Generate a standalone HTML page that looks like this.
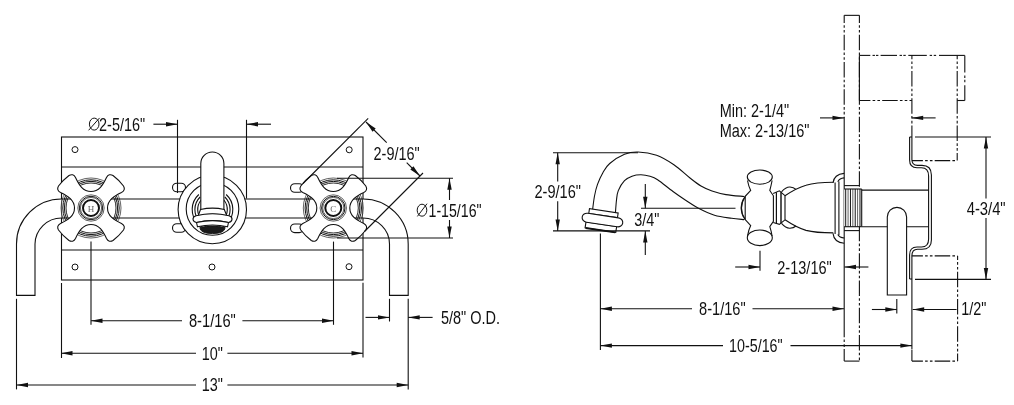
<!DOCTYPE html>
<html><head><meta charset="utf-8"><style>
html,body{margin:0;padding:0;background:#fff;width:1014px;height:405px;overflow:hidden}
svg{display:block;will-change:transform}
text{font-family:"Liberation Sans",sans-serif;fill:#111;stroke:none}
</style></head><body>
<svg width="1014" height="405" viewBox="0 0 1014 405" stroke="#111" fill="none" stroke-linecap="butt">
<rect x="61.5" y="137" width="301.5" height="143" fill="none" stroke-width="1.10"/>
<line x1="61.5" y1="167" x2="363" y2="167" stroke-width="1.10"/>
<line x1="61.5" y1="250" x2="363" y2="250" stroke-width="1.10"/>
<circle cx="75" cy="149.6" r="3" stroke-width="0.99" fill="none"/>
<circle cx="349.2" cy="149.8" r="3" stroke-width="0.99" fill="none"/>
<circle cx="75" cy="267" r="3" stroke-width="0.99" fill="none"/>
<circle cx="349" cy="266.7" r="3" stroke-width="0.99" fill="none"/>
<circle cx="212" cy="267" r="3" stroke-width="0.99" fill="none"/>
<path d="M61.5 199 A45 45 0 0 0 16.5 244 L16.5 295.4 L35 295.4 L35 244 A26.5 26.5 0 0 1 61.5 218" stroke-width="1.10" fill="#fff"/>
<path d="M363 199 A45.2 45 0 0 1 408.2 244 L408.2 295.4 L389.5 295.4 L389.5 244 A26.5 26 0 0 0 363 218" stroke-width="1.10" fill="#fff"/>
<line x1="61.5" y1="199" x2="363" y2="199" stroke-width="1.10"/>
<line x1="61.5" y1="218" x2="363" y2="218" stroke-width="1.10"/>
<rect x="172.5" y="183.2" width="13" height="8.6" rx="4.3" fill="#fff" stroke-width="1.10"/>
<rect x="172.5" y="223.7" width="13" height="8.6" rx="4.3" fill="#fff" stroke-width="1.10"/>
<rect x="290.5" y="183.7" width="13" height="8.6" rx="4.3" fill="#fff" stroke-width="1.10"/>
<rect x="290.5" y="224.0" width="13" height="8.6" rx="4.3" fill="#fff" stroke-width="1.10"/>
<line x1="177.5" y1="119.8" x2="177.5" y2="193" stroke-width="1.10"/>
<circle cx="212.3" cy="209.5" r="34.2" stroke-width="1.10" fill="#fff"/>
<circle cx="212.5" cy="209" r="26.3" stroke-width="1.10" fill="none"/>
<path d="M198.82 194.5 A20.3 20.3 0 1 0 226.18 194.5" stroke-width="1.10" fill="none"/>
<path d="M200.11 197 A17.6 17.6 0 1 0 224.89 197" stroke-width="1.10" fill="none"/>
<path d="M201.15 200 A14.8 14.8 0 1 0 223.85 200" stroke-width="1.10" fill="none"/>
<path d="M200.8 210 L200.8 163.6 A11.55 11.55 0 0 1 223.9 163.6 L223.9 210" stroke-width="1.10" fill="#fff"/>
<path d="M200.5 209.5 Q212.5 206.8 224.3 209.5 L226.8 215.8 Q212.5 212.5 198.2 215.8 Z" stroke-width="1.10" fill="#fff"/>
<path d="M196 215.8 Q212.5 211.8 229 215.8 Q232.3 217 232 219.3 Q231.5 222 228.5 222.5 Q212.5 218.8 196.5 222.5 Q193.3 222 193 219.3 Q192.8 217 196 215.8 Z" stroke-width="1.10" fill="#fff"/>
<path d="M196.5 222.5 Q212.5 218.8 228.5 222.5 L227.5 226.8 Q212.5 223.3 197.5 226.8 Z" stroke-width="1.10" fill="#fff"/>
<path d="M199.8 227.6 Q212.5 224.3 225.2 227.6 Q224.5 233.6 212.5 233.6 Q200.5 233.6 199.8 227.6 Z" stroke-width="0.88" fill="#1a1a1a"/>
<circle cx="91.0" cy="208" r="30" stroke-width="0.66" fill="none"/>
<circle cx="91.0" cy="208" r="28.2" stroke-width="0.99" fill="none"/>
<circle cx="91.0" cy="208" r="26.6" stroke-width="0.99" fill="none"/>
<circle cx="91.0" cy="208" r="25" stroke-width="0.88" fill="none"/>
<path transform="translate(91.0 208)" d="M 0 -16.5 C 8.00 -16.50 12.00 -23.00 15.50 -30.50 C 17.00 -33.50 19.50 -34.00 22.00 -32.50 C 26.00 -29.50 29.50 -26.00 32.50 -22.00 C 34.00 -19.50 33.50 -17.00 30.50 -15.50 C 23.00 -12.00 16.50 -8.00 16.50 0.00 C 16.50 8.00 23.00 12.00 30.50 15.50 C 33.50 17.00 34.00 19.50 32.50 22.00 C 29.50 26.00 26.00 29.50 22.00 32.50 C 19.50 34.00 17.00 33.50 15.50 30.50 C 12.00 23.00 8.00 16.50 -0.00 16.50 C -8.00 16.50 -12.00 23.00 -15.50 30.50 C -17.00 33.50 -19.50 34.00 -22.00 32.50 C -26.00 29.50 -29.50 26.00 -32.50 22.00 C -34.00 19.50 -33.50 17.00 -30.50 15.50 C -23.00 12.00 -16.50 8.00 -16.50 -0.00 C -16.50 -8.00 -23.00 -12.00 -30.50 -15.50 C -33.50 -17.00 -34.00 -19.50 -32.50 -22.00 C -29.50 -26.00 -26.00 -29.50 -22.00 -32.50 C -19.50 -34.00 -17.00 -33.50 -15.50 -30.50 C -12.00 -23.00 -8.00 -16.50 0.00 -16.50 Z" fill="#fff" stroke-width="1.10"/>
<circle cx="91.0" cy="208" r="13.2" stroke-width="0.66" fill="none"/>
<circle cx="91.0" cy="208" r="11.7" stroke-width="0.99" fill="none"/>
<circle cx="91.0" cy="208" r="10.6" stroke-width="0.66" fill="none"/>
<circle cx="91.0" cy="208" r="8" stroke-width="1.98" fill="none"/>
<text x="91.0" y="211.5" font-family="Liberation Serif" font-size="9" text-anchor="middle" style="font-family:&quot;Liberation Serif&quot;;fill:#666">H</text>
<circle cx="333.3" cy="208" r="30" stroke-width="0.66" fill="none"/>
<circle cx="333.3" cy="208" r="28.2" stroke-width="0.99" fill="none"/>
<circle cx="333.3" cy="208" r="26.6" stroke-width="0.99" fill="none"/>
<circle cx="333.3" cy="208" r="25" stroke-width="0.88" fill="none"/>
<path transform="translate(333.3 208)" d="M 0 -16.5 C 8.00 -16.50 12.00 -23.00 15.50 -30.50 C 17.00 -33.50 19.50 -34.00 22.00 -32.50 C 26.00 -29.50 29.50 -26.00 32.50 -22.00 C 34.00 -19.50 33.50 -17.00 30.50 -15.50 C 23.00 -12.00 16.50 -8.00 16.50 0.00 C 16.50 8.00 23.00 12.00 30.50 15.50 C 33.50 17.00 34.00 19.50 32.50 22.00 C 29.50 26.00 26.00 29.50 22.00 32.50 C 19.50 34.00 17.00 33.50 15.50 30.50 C 12.00 23.00 8.00 16.50 -0.00 16.50 C -8.00 16.50 -12.00 23.00 -15.50 30.50 C -17.00 33.50 -19.50 34.00 -22.00 32.50 C -26.00 29.50 -29.50 26.00 -32.50 22.00 C -34.00 19.50 -33.50 17.00 -30.50 15.50 C -23.00 12.00 -16.50 8.00 -16.50 -0.00 C -16.50 -8.00 -23.00 -12.00 -30.50 -15.50 C -33.50 -17.00 -34.00 -19.50 -32.50 -22.00 C -29.50 -26.00 -26.00 -29.50 -22.00 -32.50 C -19.50 -34.00 -17.00 -33.50 -15.50 -30.50 C -12.00 -23.00 -8.00 -16.50 0.00 -16.50 Z" fill="#fff" stroke-width="1.10"/>
<circle cx="333.3" cy="208" r="13.2" stroke-width="0.66" fill="none"/>
<circle cx="333.3" cy="208" r="11.7" stroke-width="0.99" fill="none"/>
<circle cx="333.3" cy="208" r="10.6" stroke-width="0.66" fill="none"/>
<circle cx="333.3" cy="208" r="8" stroke-width="1.98" fill="none"/>
<text x="333.3" y="211.5" font-family="Liberation Serif" font-size="9" text-anchor="middle" style="font-family:&quot;Liberation Serif&quot;;fill:#666">C</text>
<line x1="91.0" y1="241.6" x2="91.0" y2="324.8" stroke-width="1.10"/>
<line x1="333.5" y1="241.6" x2="333.5" y2="324.8" stroke-width="1.10"/>
<line x1="61.5" y1="283" x2="61.5" y2="358" stroke-width="1.10"/>
<line x1="363" y1="282.7" x2="363" y2="357.4" stroke-width="1.10"/>
<line x1="16.5" y1="298.8" x2="16.5" y2="389.4" stroke-width="1.10"/>
<line x1="408.2" y1="298.8" x2="408.2" y2="389.5" stroke-width="1.10"/>
<line x1="389.5" y1="298.8" x2="389.5" y2="321.5" stroke-width="1.10"/>
<line x1="246.5" y1="119.8" x2="246.5" y2="198.5" stroke-width="1.10"/>
<line x1="182" y1="320.7" x2="91.0" y2="320.7" stroke-width="1.10"/>
<path d="M91.00 320.70 L102.50 318.50 L102.50 322.90 Z" fill="#111" stroke="none"/>
<line x1="242.4" y1="320.7" x2="333.5" y2="320.7" stroke-width="1.10"/>
<path d="M333.50 320.70 L322.00 322.90 L322.00 318.50 Z" fill="#111" stroke="none"/>
<text transform="translate(188.93 327.10) scale(0.835 1)" font-size="17.6">8-1/16&quot;</text>
<line x1="196" y1="353.3" x2="61" y2="353.3" stroke-width="1.10"/>
<path d="M61.00 353.30 L72.50 351.10 L72.50 355.50 Z" fill="#111" stroke="none"/>
<line x1="227.4" y1="353.3" x2="363" y2="353.3" stroke-width="1.10"/>
<path d="M363.00 353.30 L351.50 355.50 L351.50 351.10 Z" fill="#111" stroke="none"/>
<text transform="translate(201.63 360.20) scale(0.819 1)" font-size="17.6">10&quot;</text>
<line x1="196" y1="385" x2="16.5" y2="385" stroke-width="1.10"/>
<path d="M16.50 385.00 L28.00 382.80 L28.00 387.20 Z" fill="#111" stroke="none"/>
<line x1="227.4" y1="385" x2="408.2" y2="385" stroke-width="1.10"/>
<path d="M408.20 385.00 L396.70 387.20 L396.70 382.80 Z" fill="#111" stroke="none"/>
<text transform="translate(201.63 391.30) scale(0.819 1)" font-size="17.6">13&quot;</text>
<line x1="365.5" y1="317.4" x2="389.5" y2="317.4" stroke-width="1.10"/>
<path d="M389.50 317.40 L378.00 319.60 L378.00 315.20 Z" fill="#111" stroke="none"/>
<line x1="432.6" y1="317.4" x2="408.2" y2="317.4" stroke-width="1.10"/>
<path d="M408.20 317.40 L419.70 315.20 L419.70 319.60 Z" fill="#111" stroke="none"/>
<text transform="translate(440.92 323.80) scale(0.824 1)" font-size="17.6">5/8&quot; O.D.</text>
<line x1="153.4" y1="124.2" x2="177.5" y2="124.2" stroke-width="1.10"/>
<path d="M177.50 124.20 L166.00 126.40 L166.00 122.00 Z" fill="#111" stroke="none"/>
<line x1="271" y1="124.2" x2="246.5" y2="124.2" stroke-width="1.10"/>
<path d="M246.50 124.20 L258.00 122.00 L258.00 126.40 Z" fill="#111" stroke="none"/>
<text transform="translate(99.06 130.50) scale(0.822 1)" font-size="17.6">2-5/16&quot;</text>
<ellipse cx="94.2" cy="124.1" rx="4.8" ry="6" stroke-width="0.99" fill="none"/>
<line x1="88.6" y1="130.3" x2="99.6" y2="117.9" stroke-width="0.99"/>
<line x1="368.2" y1="118.3" x2="303" y2="183.5" stroke-width="1.10"/>
<line x1="423" y1="173" x2="364.5" y2="231.5" stroke-width="1.10"/>
<line x1="386.7" y1="142.7" x2="366" y2="122" stroke-width="1.10"/>
<path d="M366.00 122.00 L375.69 128.58 L372.58 131.69 Z" fill="#111" stroke="none"/>
<line x1="406.7" y1="162.7" x2="420" y2="176" stroke-width="1.10"/>
<path d="M420.00 176.00 L410.31 169.42 L413.42 166.31 Z" fill="#111" stroke="none"/>
<text transform="translate(373.56 159.80) scale(0.822 1)" font-size="17.6">2-9/16&quot;</text>
<line x1="337" y1="178.2" x2="453" y2="178.2" stroke-width="1.10"/>
<line x1="337" y1="238" x2="453" y2="238" stroke-width="1.10"/>
<line x1="449.5" y1="200" x2="449.5" y2="178.2" stroke-width="1.10"/>
<path d="M449.50 178.20 L451.70 189.70 L447.30 189.70 Z" fill="#111" stroke="none"/>
<line x1="449.5" y1="220" x2="449.5" y2="238" stroke-width="1.10"/>
<path d="M449.50 238.00 L447.30 226.50 L451.70 226.50 Z" fill="#111" stroke="none"/>
<text transform="translate(428.55 216.70) scale(0.804 1)" font-size="17.6">1-15/16&quot;</text>
<ellipse cx="422" cy="210.2" rx="4.8" ry="6" stroke-width="0.99" fill="none"/>
<line x1="417.4" y1="216.4" x2="427" y2="203.7" stroke-width="0.99"/>
<line x1="844.2" y1="15.35" x2="844.2" y2="118" stroke-width="1.10" stroke-dasharray="15.5 2.2 2.6 2.2 2.6 2.2" stroke-dashoffset="7.9"/>
<line x1="844.2" y1="117.5" x2="844.2" y2="333" stroke-width="1.10"/>
<line x1="844.2" y1="361.1" x2="844.2" y2="333" stroke-width="1.10" stroke-dasharray="15.5 2.2 2.6 2.2 2.6 2.2" stroke-dashoffset="3.5"/>
<line x1="859.4" y1="15.35" x2="859.4" y2="361.1" stroke-width="1.10" stroke-dasharray="15.5 2.2 2.6 2.2 2.6 2.2" stroke-dashoffset="7.9"/>
<line x1="844.2" y1="15.35" x2="859.4" y2="15.35" stroke-width="1.10"/>
<line x1="844.2" y1="361.1" x2="859.4" y2="361.1" stroke-width="1.10"/>
<line x1="859.4" y1="55.4" x2="870.3" y2="55.4" stroke-width="1.10"/>
<line x1="880.6" y1="55.4" x2="897" y2="55.4" stroke-width="1.10"/>
<line x1="872.5333333333333" y1="55.4" x2="874.9333333333334" y2="55.4" stroke-width="1.10"/>
<line x1="875.9666666666666" y1="55.4" x2="878.3666666666667" y2="55.4" stroke-width="1.10"/>
<line x1="908.3" y1="55.4" x2="926.8" y2="55.4" stroke-width="1.10"/>
<line x1="899.5666666666666" y1="55.4" x2="901.9666666666667" y2="55.4" stroke-width="1.10"/>
<line x1="903.3333333333333" y1="55.4" x2="905.7333333333333" y2="55.4" stroke-width="1.10"/>
<line x1="939" y1="55.4" x2="964.8" y2="55.4" stroke-width="1.10"/>
<line x1="929.6666666666666" y1="55.4" x2="932.0666666666667" y2="55.4" stroke-width="1.10"/>
<line x1="933.7333333333332" y1="55.4" x2="936.1333333333333" y2="55.4" stroke-width="1.10"/>
<line x1="964.8" y1="55.4" x2="964.8" y2="72.4" stroke-width="1.10"/>
<line x1="964.8" y1="85.3" x2="964.8" y2="100.5" stroke-width="1.10"/>
<line x1="964.8" y1="75.5" x2="964.8" y2="77.9" stroke-width="1.10"/>
<line x1="964.8" y1="79.8" x2="964.8" y2="82.2" stroke-width="1.10"/>
<line x1="964.8" y1="100.5" x2="957.2" y2="100.5" stroke-width="1.10"/>
<line x1="859.4" y1="55.2" x2="859.4" y2="100.5" stroke-width="1.10"/>
<line x1="859.4" y1="100.5" x2="911.9" y2="100.5" stroke-width="1.10" stroke-dasharray="15.5 2.2 2.6 2.2 2.6 2.2" stroke-dashoffset="4.5"/>
<line x1="911.9" y1="55.2" x2="911.9" y2="137" stroke-width="1.10" stroke-dasharray="15.5 2.2 2.6 2.2 2.6 2.2" stroke-dashoffset="11.5"/>
<line x1="957.2" y1="55.2" x2="957.2" y2="160.6" stroke-width="1.10" stroke-dasharray="15.5 2.2 2.6 2.2 2.6 2.2" stroke-dashoffset="11.5"/>
<line x1="911.9" y1="160.6" x2="957.2" y2="160.6" stroke-width="1.10" stroke-dasharray="15.5 2.2 2.6 2.2 2.6 2.2" stroke-dashoffset="4.5"/>
<line x1="911.9" y1="255.9" x2="957.6" y2="255.9" stroke-width="1.10" stroke-dasharray="15.5 2.2 2.6 2.2 2.6 2.2" stroke-dashoffset="4.5"/>
<line x1="911.9" y1="279" x2="911.9" y2="349.5" stroke-width="1.10"/>
<line x1="911.9" y1="361.1" x2="911.9" y2="349.5" stroke-width="1.10" stroke-dasharray="15.5 2.2 2.6 2.2 2.6 2.2" stroke-dashoffset="4.5"/>
<line x1="957.6" y1="255.9" x2="957.6" y2="361.1" stroke-width="1.10" stroke-dasharray="15.5 2.2 2.6 2.2 2.6 2.2" stroke-dashoffset="11.5"/>
<line x1="911.9" y1="361.1" x2="957.6" y2="361.1" stroke-width="1.10" stroke-dasharray="15.5 2.2 2.6 2.2 2.6 2.2" stroke-dashoffset="4.5"/>
<line x1="820" y1="117.9" x2="844" y2="117.9" stroke-width="1.10"/>
<path d="M844.00 117.90 L832.50 120.10 L832.50 115.70 Z" fill="#111" stroke="none"/>
<line x1="935.6" y1="117.9" x2="911.7" y2="117.9" stroke-width="1.10"/>
<path d="M911.70 117.90 L923.20 115.70 L923.20 120.10 Z" fill="#111" stroke="none"/>
<text transform="translate(719.65 116.80) scale(0.823 1)" font-size="17.6">Min: 2-1/4&quot;</text>
<text transform="translate(719.65 137.40) scale(0.825 1)" font-size="17.6">Max: 2-13/16&quot;</text>
<path d="M909.6 137 L909.6 160 C909.6 165.5 912 167.7 917 167.7 L921.5 167.7 C926.5 167.7 928.6 170 928.6 176 L928.6 239 C928.6 244.5 926.5 247 921.5 247 L917 247 C912 247 909.6 249.5 909.6 255 L909.6 279" stroke-width="1.10" fill="none"/>
<path d="M911.9 137 L911.9 159.5 C911.9 163.5 913.5 165.4 917.5 165.4 L922 165.4 C928.5 165.4 931.4 168.5 931.4 175 L931.4 240 C931.4 246.5 928.5 249.3 922 249.3 L917.5 249.3 C913.5 249.3 911.9 251.5 911.9 256 L911.9 279" stroke-width="1.10" fill="none"/>
<line x1="909.6" y1="137" x2="911.9" y2="137" stroke-width="1.10"/>
<line x1="909.6" y1="279" x2="911.9" y2="279" stroke-width="1.10"/>
<line x1="861.7" y1="190.1" x2="928.6" y2="190.1" stroke-width="1.10"/>
<line x1="861.7" y1="226.7" x2="928.6" y2="226.7" stroke-width="1.10"/>
<path d="M887.3 295 L887.3 217 A9.65 9.65 0 0 1 906.6 217 L906.6 295 Z" stroke-width="1.10" fill="#fff"/>
<line x1="915" y1="137" x2="991" y2="137" stroke-width="1.10"/>
<line x1="915" y1="279.4" x2="991" y2="279.4" stroke-width="1.10"/>
<line x1="986" y1="198.4" x2="986" y2="137" stroke-width="1.10"/>
<path d="M986.00 137.00 L988.20 148.50 L983.80 148.50 Z" fill="#111" stroke="none"/>
<line x1="986" y1="218.1" x2="986" y2="279.4" stroke-width="1.10"/>
<path d="M986.00 279.40 L983.80 267.90 L988.20 267.90 Z" fill="#111" stroke="none"/>
<text transform="translate(966.66 214.60) scale(0.841 1)" font-size="17.6">4-3/4&quot;</text>
<line x1="871.9" y1="309.5" x2="896.8" y2="309.5" stroke-width="1.10"/>
<path d="M896.80 309.50 L885.30 311.70 L885.30 307.30 Z" fill="#111" stroke="none"/>
<line x1="896.8" y1="299" x2="896.8" y2="313.5" stroke-width="1.10"/>
<line x1="956.6" y1="309.5" x2="912.7" y2="309.5" stroke-width="1.10"/>
<path d="M912.70 309.50 L924.20 307.30 L924.20 311.70 Z" fill="#111" stroke="none"/>
<text transform="translate(961.14 315.40) scale(0.819 1)" font-size="17.6">1/2&quot;</text>
<rect x="844.2" y="189" width="17.5" height="37.7" fill="#fff" stroke="none"/>
<line x1="844.2" y1="189" x2="861.7" y2="189" stroke-width="1.10"/>
<line x1="844.2" y1="226.7" x2="861.7" y2="226.7" stroke-width="1.10"/>
<line x1="861.7" y1="189" x2="861.7" y2="226.7" stroke-width="1.10"/>
<line x1="845.7" y1="189" x2="845.7" y2="226.7" stroke-width="0.99"/>
<line x1="848.08" y1="189" x2="848.08" y2="226.7" stroke-width="0.66"/>
<line x1="850.46" y1="189" x2="850.46" y2="226.7" stroke-width="0.99"/>
<line x1="852.84" y1="189" x2="852.84" y2="226.7" stroke-width="0.66"/>
<line x1="855.22" y1="189" x2="855.22" y2="226.7" stroke-width="0.99"/>
<line x1="857.6" y1="189" x2="857.6" y2="226.7" stroke-width="0.66"/>
<line x1="859.98" y1="189" x2="859.98" y2="226.7" stroke-width="0.99"/>
<line x1="844.2" y1="185.6" x2="859.4" y2="185.6" stroke-width="1.10"/>
<line x1="844.2" y1="230.6" x2="859.4" y2="230.6" stroke-width="1.10"/>
<path d="M833 183 Q834 174.2 844.2 173.4" stroke-width="1.10" fill="none"/>
<path d="M833 233.4 Q834 242.5 844.2 243.3" stroke-width="1.10" fill="none"/>
<path d="M837.8 181.8 Q839.5 178.2 844.2 177.9" stroke-width="1.10" fill="none"/>
<path d="M837.8 234.6 Q839.5 237.8 844.2 238" stroke-width="1.10" fill="none"/>
<line x1="835.1" y1="182.5" x2="835.1" y2="234" stroke-width="1.10"/>
<line x1="838.9" y1="181.5" x2="838.9" y2="235" stroke-width="1.10"/>
<path d="M785 195.7 C792 191 798 187.5 806 185.2 C814 182.7 822 182.2 833.3 182.2" stroke-width="1.10" fill="none"/>
<path d="M785 219.8 C792 224.5 798 228 806 230.4 C814 232.5 822 232.9 833.3 232.9" stroke-width="1.10" fill="none"/>
<path d="M781.5 191.8 Q786 186.8 790 187 Q793.5 187.2 796 189.4" stroke-width="1.10" fill="none"/>
<path d="M781.5 223.4 Q786 228.5 790 228.2 Q793.5 228 796 226" stroke-width="1.10" fill="none"/>
<path d="M773.2 193.4 L779.4 190.8 L785 195.7 L785 219.8 L779.4 224.4 L773.2 222.5" stroke-width="1.10" fill="#fff"/>
<line x1="776.4" y1="192.2" x2="776.4" y2="223.6" stroke-width="1.21"/>
<line x1="781.0" y1="192.2" x2="781.0" y2="223.2" stroke-width="1.43"/>
<path d="M747.5 180.5 Q748.5 186 750.7 190.5 L745.2 196.3 L745.2 219.6 L750.7 225.6 Q748.5 230 747.5 236" stroke-width="1.10" fill="none"/>
<path d="M772.1 180.5 Q771 186 769.8 190.5 L773.4 195.8 L773.4 221.3 L769.8 226.6 Q771 230 772.1 236" stroke-width="1.10" fill="none"/>
<ellipse cx="759.8" cy="177.1" rx="12.5" ry="7.1" stroke-width="1.10" fill="#fff"/>
<ellipse cx="759.8" cy="237.8" rx="12.5" ry="7.8" stroke-width="1.10" fill="#fff"/>
<path d="M745.2 196.3 Q737.5 208 745.2 219.6" stroke-width="1.32" fill="none"/>
<path d="M743 199.5 Q739.5 208 743 216.5" stroke-width="0.77" fill="none"/>
<path d="M592.5 210.5 C592.83 208.08 593.67 200.35 594.5 196 C595.33 191.65 596.08 188.32 597.5 184.4 C598.92 180.48 600.97 175.98 603 172.5 C605.03 169.02 606.12 166.53 609.7 163.5 C613.28 160.47 619.78 156.22 624.5 154.3 C629.22 152.38 632.65 151.83 638 152 C643.35 152.17 650.62 153.17 656.6 155.3 C662.58 157.43 668.33 161.02 673.9 164.8 C679.47 168.58 685.48 174.47 690 178 C694.52 181.53 697.33 183.83 701 186 C704.67 188.17 707.83 189.57 712 191 C716.17 192.43 720.67 193.68 726 194.6 C731.33 195.52 741.00 196.18 744 196.5" stroke-width="1.10" fill="none"/>
<path d="M615.3 214.5 C615.50 212.08 616.00 203.98 616.5 200 C617.00 196.02 616.97 193.82 618.3 190.6 C619.63 187.38 622.22 183.10 624.5 180.7 C626.78 178.30 629.25 177.18 632 176.2 C634.75 175.22 638.00 174.78 641 174.8 C644.00 174.82 647.23 175.47 650 176.3 C652.77 177.13 653.77 177.27 657.6 179.8 C661.43 182.33 668.27 188.05 673 191.5 C677.73 194.95 681.83 197.75 686 200.5 C690.17 203.25 693.25 205.55 698 208 C702.75 210.45 708.90 213.48 714.5 215.2 C720.10 216.92 726.68 217.57 731.6 218.3 C736.52 219.03 741.93 219.38 744 219.6" stroke-width="1.10" fill="none"/>
<g transform="translate(602 223) rotate(8.5)">
<rect x="-14.5" y="-12.3" width="29" height="4.8" fill="#fff" stroke-width="1.10"/>
<rect x="-16" y="1.3" width="31" height="6" fill="#fff" stroke-width="1.10"/>
<line x1="-15.5" y1="7.3" x2="14.5" y2="7.3" stroke-width="1.98"/>
<rect x="-20.5" y="-7.5" width="41" height="9" rx="5" ry="4.5" fill="#fff" stroke-width="1.10"/>
</g>
<line x1="553" y1="152.8" x2="638" y2="152.8" stroke-width="1.10"/>
<line x1="553" y1="230.9" x2="650" y2="230.9" stroke-width="1.10"/>
<line x1="557.7" y1="181.5" x2="557.7" y2="152.8" stroke-width="1.10"/>
<path d="M557.70 152.80 L559.90 164.30 L555.50 164.30 Z" fill="#111" stroke="none"/>
<line x1="557.7" y1="201.3" x2="557.7" y2="230.9" stroke-width="1.10"/>
<path d="M557.70 230.90 L555.50 219.40 L559.90 219.40 Z" fill="#111" stroke="none"/>
<text transform="translate(534.46 198.10) scale(0.828 1)" font-size="17.6">2-9/16&quot;</text>
<line x1="641" y1="208.3" x2="735.5" y2="208.3" stroke-width="1.10"/>
<line x1="645.3" y1="184" x2="645.3" y2="208.3" stroke-width="1.10"/>
<path d="M645.30 208.30 L643.10 196.80 L647.50 196.80 Z" fill="#111" stroke="none"/>
<line x1="645.3" y1="255" x2="645.3" y2="230.9" stroke-width="1.10"/>
<path d="M645.30 230.90 L647.50 242.40 L643.10 242.40 Z" fill="#111" stroke="none"/>
<text transform="translate(634.33 225.80) scale(0.819 1)" font-size="17.6">3/4&quot;</text>
<line x1="600.4" y1="233.6" x2="600.4" y2="350" stroke-width="1.10"/>
<line x1="760" y1="250.7" x2="760" y2="270.8" stroke-width="1.10"/>
<line x1="735.2" y1="267" x2="760" y2="267" stroke-width="1.10"/>
<path d="M760.00 267.00 L748.50 269.20 L748.50 264.80 Z" fill="#111" stroke="none"/>
<text transform="translate(777.26 273.60) scale(0.827 1)" font-size="17.6">2-13/16&quot;</text>
<line x1="868.4" y1="267" x2="844.5" y2="267" stroke-width="1.10"/>
<path d="M844.50 267.00 L856.00 264.80 L856.00 269.20 Z" fill="#111" stroke="none"/>
<line x1="692" y1="308.8" x2="600.4" y2="308.8" stroke-width="1.10"/>
<path d="M600.40 308.80 L611.90 306.60 L611.90 311.00 Z" fill="#111" stroke="none"/>
<line x1="752.5" y1="308.8" x2="844" y2="308.8" stroke-width="1.10"/>
<path d="M844.00 308.80 L832.50 311.00 L832.50 306.60 Z" fill="#111" stroke="none"/>
<text transform="translate(699.04 315.30) scale(0.83 1)" font-size="17.6">8-1/16&quot;</text>
<line x1="723" y1="345.6" x2="600.4" y2="345.6" stroke-width="1.10"/>
<path d="M600.40 345.60 L611.90 343.40 L611.90 347.80 Z" fill="#111" stroke="none"/>
<line x1="790.5" y1="345.6" x2="911.9" y2="345.6" stroke-width="1.10"/>
<path d="M911.90 345.60 L900.40 347.80 L900.40 343.40 Z" fill="#111" stroke="none"/>
<text transform="translate(729.04 352.20) scale(0.814 1)" font-size="17.6">10-5/16&quot;</text>
</svg>
</body></html>
